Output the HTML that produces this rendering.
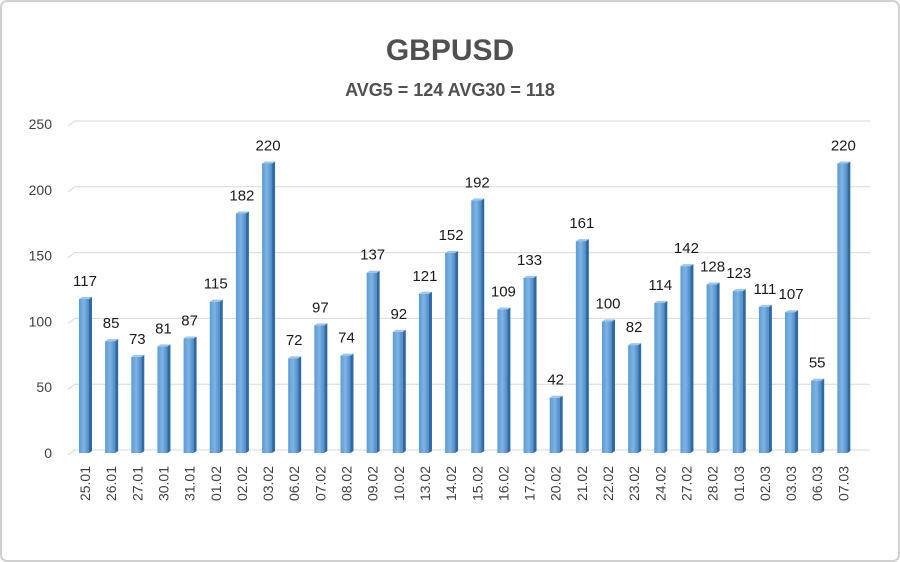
<!DOCTYPE html><html><head><style>body{margin:0;background:#fff}svg{display:block}</style></head><body>
<svg width="900" height="562" xmlns="http://www.w3.org/2000/svg" font-family="Liberation Sans, sans-serif">
<defs><linearGradient id="g" x1="0" x2="1"><stop offset="0" stop-color="#5b9bd5"/><stop offset="0.5" stop-color="#7fb3e3"/><stop offset="1" stop-color="#4a8bc9"/></linearGradient></defs>
<rect x="1" y="1" width="898" height="560" rx="6" fill="#fff" stroke="#d0d0d0" stroke-width="2"/>
<text x="450" y="60" text-anchor="middle" font-size="30" font-weight="bold" fill="#505050">GBPUSD</text>
<text x="450" y="96" text-anchor="middle" font-size="18" font-weight="bold" fill="#505050">AVG5 = 124 AVG30 = 118</text>
<g id="grid" stroke="#d9d9d9" stroke-width="1" fill="none"></g>
<g id="ax" font-size="14" fill="#404040" text-anchor="end"></g>
<g id="bars"></g>
</svg>
<script>
var v=[117,85,73,81,87,115,182,220,72,97,74,137,92,121,152,192,109,133,42,161,100,82,114,142,128,123,111,107,55,220];
var d=["25.01","26.01","27.01","30.01","31.01","01.02","02.02","03.02","06.02","07.02","08.02","09.02","10.02","13.02","14.02","15.02","16.02","17.02","20.02","21.02","22.02","23.02","24.02","27.02","28.02","01.03","02.03","03.03","06.03","07.03"];
var ns="http://www.w3.org/2000/svg";function el(p,t,a,tx){var e=document.createElementNS(ns,t);for(var k in a)e.setAttribute(k,a[k]);if(tx!=null)e.textContent=tx;document.getElementById(p).appendChild(e);}
var y0=453,s=1.316;
for(var i=0;i<=5;i++){var y=y0-i*50*s;el("grid","path",{d:"M68 "+(y+2)+" L75 "+(y-3)+" L870 "+(y-3)});el("ax","text",{x:52,y:y+5},i*50);}
for(var i=0;i<30;i++){var x=79+i*26.15,h=v[i]*s,t=y0-h;
el("bars","rect",{x:x,y:t,width:10,height:h,fill:"url(#g)"});
el("bars","path",{d:"M"+(x+10)+" "+t+" L"+(x+13)+" "+(t-2)+" L"+(x+13)+" "+(y0-2)+" L"+(x+10)+" "+y0+"Z",fill:"#2f6aa3"});
el("bars","path",{d:"M"+x+" "+t+" L"+(x+3)+" "+(t-2)+" L"+(x+13)+" "+(t-2)+" L"+(x+10)+" "+t+"Z",fill:"#9cc6ee"});
el("bars","text",{x:x+6,y:t-13,"text-anchor":"middle","font-size":"15",fill:"#1a1a1a"},v[i]);
el("bars","text",{transform:"translate("+(x+11)+",466) rotate(-90)","text-anchor":"end","font-size":"14",fill:"#404040"},d[i]);}
</script>
</body></html>
